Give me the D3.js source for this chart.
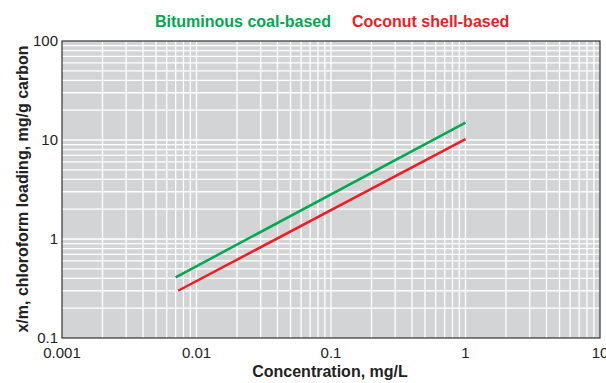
<!DOCTYPE html>
<html>
<head>
<meta charset="utf-8">
<script src="https://cdn.jsdelivr.net/npm/d3@7"></script>
<style>
  body { margin: 0; background: #fff; }
  text { font-family: "Liberation Sans", Arial, sans-serif; }
</style>
</head>
<body>
<svg id="chart" width="606" height="383"></svg>
<script>
// series: concentration (mg/L) and loading (mg/g carbon)
const bituminousX = [0.007, 1];
const bituminousY = [0.41, 15];
const coconutX = [0.0073, 1];
const coconutY = [0.30, 10.2];
const xTicks = [0.001, 0.01, 0.1, 1, 10];
const yTicks = [0.1, 1, 10, 100];
const xTickLabels = ["0.001", "0.01", "0.1", "1", "10"];
const yTickLabels = ["0.1", "1", "10", "100"];

const svg = d3.select('#chart');
const margin = {left: 62, right: 6, top: 41, bottom: 45};
const width = 606 - margin.left - margin.right;
const height = 383 - margin.top - margin.bottom;

let x = d3.scaleLog().domain([0.001, 10]).range([0, width]);
let y = d3.scaleLog().domain([0.1, 100]).range([height, 0]);

let g = svg.append('g').attr('transform', `translate(${margin.left},${margin.top})`);

g.append('rect').attr('width', width).attr('height', height).attr('fill', '#d3d4d6');

// minor + major grid at 1..9 of each decade
let gridX = [];
for (let d = 0.001; d < 10; d *= 10) {
    for (let k = 1; k <= 9; k++) gridX.push(+(d * k).toPrecision(3));
}
let gridY = [];
for (let d = 0.1; d < 100; d *= 10) {
    for (let k = 1; k <= 9; k++) gridY.push(+(d * k).toPrecision(3));
}

g.selectAll('line.gx').data(gridX.slice(1)).enter().append('line')
    .attr('class', 'gx')
    .attr('x1', d => x(d)).attr('x2', d => x(d))
    .attr('y1', 0).attr('y2', height)
    .attr('stroke', '#fff').attr('stroke-width', 1.3);

g.selectAll('line.gy').data(gridY.slice(1)).enter().append('line')
    .attr('class', 'gy')
    .attr('x1', 0).attr('x2', width)
    .attr('y1', d => y(d)).attr('y2', d => y(d))
    .attr('stroke', '#fff').attr('stroke-width', 1.3);

g.append('rect').attr('width', width).attr('height', height)
    .attr('fill', 'none').attr('stroke', '#333').attr('stroke-width', 1.2);

// tick labels
g.selectAll('text.xt').data(xTicks).enter().append('text')
    .attr('x', d => x(d)).attr('y', height + 20)
    .attr('text-anchor', 'middle').attr('font-size', 15).attr('fill', '#222')
    .text((d, i) => xTickLabels[i]);

g.selectAll('text.yt').data(yTicks).enter().append('text')
    .attr('x', -4).attr('y', d => y(d) + 5)
    .attr('text-anchor', 'end').attr('font-size', 15).attr('fill', '#222')
    .text((d, i) => yTickLabels[i]);

// lines
let line = d3.line().x(d => x(d[0])).y(d => y(d[1]));
let series = [
    {xs: bituminousX, ys: bituminousY, color: '#00a84f'},
    {xs: coconutX, ys: coconutY, color: '#ee1d25'}
];
series.forEach(s => {
    g.append('path')
        .datum(s.xs.map((v, i) => [v, s.ys[i]]))
        .attr('d', line)
        .attr('fill', 'none').attr('stroke', s.color).attr('stroke-width', 2.5);
});

// axis titles
svg.append('text').attr('x', 330).attr('y', 377)
    .attr('text-anchor', 'middle').attr('font-size', 16).attr('font-weight', 'bold').attr('fill', '#222')
    .text('Concentration, mg/L');

svg.append('text')
    .attr('transform', 'translate(28,189) rotate(-90)')
    .attr('text-anchor', 'middle').attr('font-size', 16).attr('font-weight', 'bold').attr('fill', '#222')
    .text('x/m, chloroform loading, mg/g carbon');

// legend
svg.append('text').attr('x', 155).attr('y', 27)
    .attr('font-size', 16).attr('font-weight', 'bold').attr('fill', '#00a84f')
    .text('Bituminous coal-based');
svg.append('text').attr('x', 352).attr('y', 27)
    .attr('font-size', 16).attr('font-weight', 'bold').attr('fill', '#ee1d25')
    .text('Coconut shell-based');
</script>
</body>
</html>
